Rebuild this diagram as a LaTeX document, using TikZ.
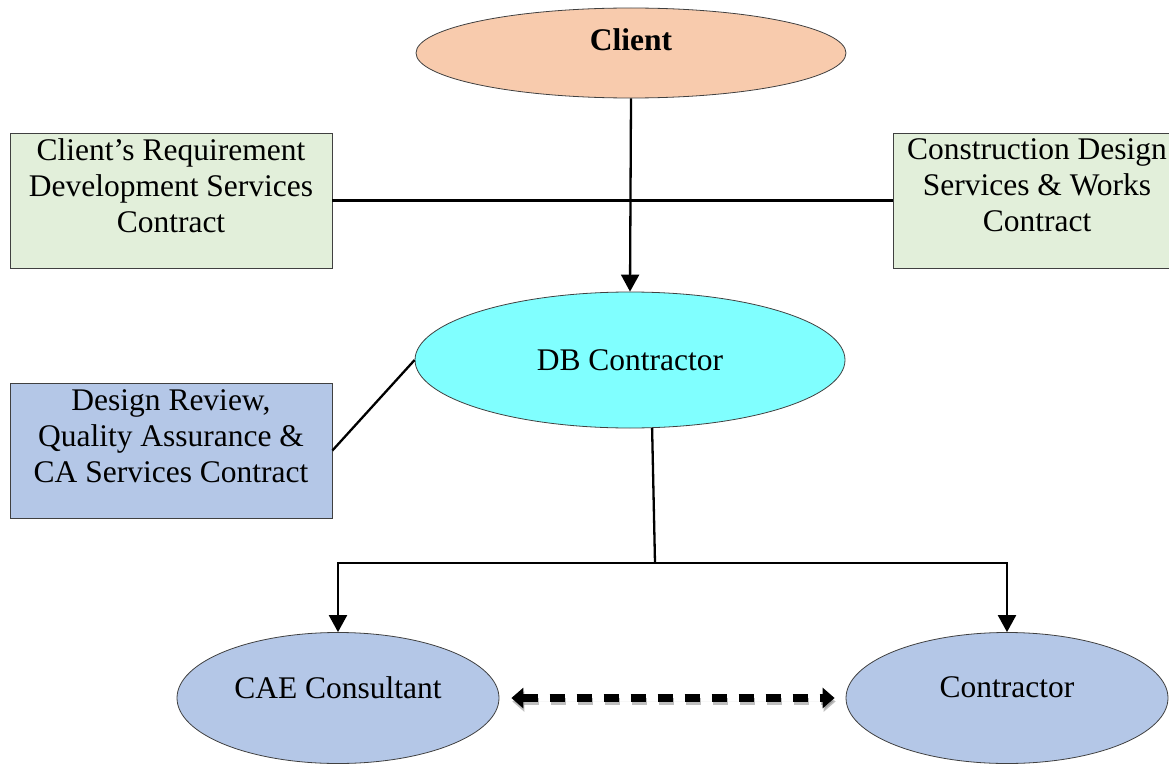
\documentclass[tikz,border=0pt]{standalone}
\usepackage{fontspec}
\setmainfont{Liberation Serif}
\usetikzlibrary{shapes.geometric,arrows.meta}

\definecolor{clientfill}{HTML}{F8CBAD}
\definecolor{dbfill}{HTML}{80FFFF}
\definecolor{bluefill}{HTML}{B4C7E7}
\definecolor{greenfill}{HTML}{E2EFDA}
\definecolor{edge}{HTML}{404040}

\tikzset{
  txt/.style={font=\fontsize{31.5}{36}\selectfont, align=center, inner sep=0pt},
  oval/.style={ellipse, draw=edge, line width=0.8pt, inner sep=0pt},
  cbox/.style={rectangle, draw=edge, line width=0.8pt, inner sep=0pt},
  link/.style={line width=2.3pt},
  arr/.style={link, -{Triangle[width=18pt,length=17pt]}},
  dasharr/.style={line width=7.5pt, dash pattern=on 15pt off 12pt,
    {Triangle[width=20pt,length=12pt]}-{Triangle[width=20pt,length=12pt]},
    shorten <=12pt, shorten >=11pt}
}

\begin{document}
\begin{tikzpicture}[x=1pt,y=-1pt]
\useasboundingbox (0,0) rectangle (1169,765);
\clip (0,0) rectangle (1169,765);

% parties
\node[oval, fill=clientfill, minimum width=430pt, minimum height=90pt,
  label={[txt,yshift=13pt]center:\bfseries Client}] (client) at (631,53) {};
\node[oval, fill=dbfill, minimum width=430pt, minimum height=136pt,
  label={[txt]center:DB Contractor}] (db) at (630,360) {};
\node[oval, fill=bluefill, minimum width=322pt, minimum height=131pt,
  label={[txt,yshift=10pt]center:CAE Consultant}] (cae) at (338,698) {};
\node[oval, fill=bluefill, minimum width=322pt, minimum height=131pt,
  label={[txt,yshift=11pt]center:Contractor}] (ctr) at (1007,698) {};

% contracts
\node[cbox, fill=greenfill, minimum width=322pt, minimum height=135pt,
  label={[txt,anchor=north,yshift=-6pt]north:{Client’s Requirement\\Development Services\\Contract}}]
  (crd) at (171,200.5) {};
\node[cbox, fill=greenfill, minimum width=288pt, minimum height=135pt,
  label={[txt,anchor=north,yshift=-6pt]north:{Construction Design\\Services \& Works\\Contract}}]
  (cdw) at (1037,200.5) {};
\node[cbox, fill=bluefill, minimum width=322pt, minimum height=135pt,
  label={[txt,anchor=north,yshift=-7pt]north:{Design Review,\\Quality Assurance \&\\CA Services Contract}}]
  (drq) at (171,450.5) {};

% connectors
\draw[link] (crd.east) -- (cdw.west);
\draw[arr] (client.south) -- (db.north);
\draw[link] (drq.east) -- (db.west);

\coordinate (split) at (655,563);
\draw[link] (db.-72) -- (split);
\draw[arr] (split) -| (cae.north);
\draw[arr] (split) -| (ctr.north);

% two-way dashed link with a soft shadow
\begin{scope}[transform canvas={shift={(1pt,-3.5pt)}}]
  \draw[dasharr, draw=black!50, fill=black!50, opacity=0.5] (cae.east) -- (ctr.west);
\end{scope}
\draw[dasharr] (cae.east) -- (ctr.west);
\end{tikzpicture}
\end{document}
